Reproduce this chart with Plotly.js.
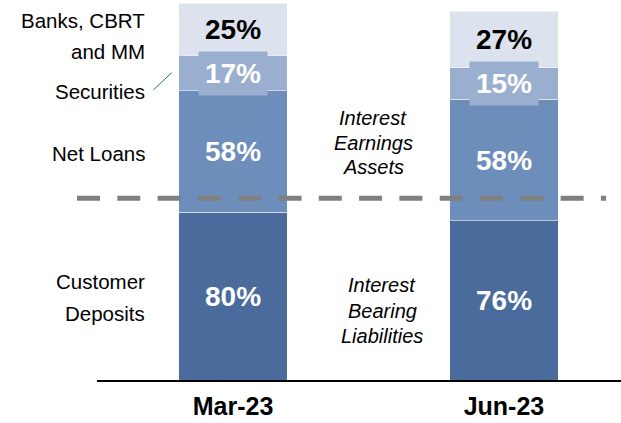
<!DOCTYPE html>
<html>
<head>
<meta charset="utf-8">
<script src="https://cdn.plot.ly/plotly-3.0.1.min.js"></script>
<style>html,body{margin:0;padding:0;background:#fff;}#chart{width:621px;height:423px;}</style>
</head>
<body>
<div id="chart"></div>
<script>
// ---- data ----
const categories = ['Mar-23', 'Jun-23'];
const customerDeposits = [80, 76];
const netLoans = [58, 58];
const securities = [17, 15];
const banksCbrtMm = [25, 27];

const seriesNames = ['Customer Deposits', 'Net Loans', 'Securities', 'Banks, CBRT and MM'];
const seriesValues = [customerDeposits, netLoans, securities, banksCbrtMm];
const seriesColors = ['#4a6b9b', '#6d8dba', '#9aafcf', '#dde3ee'];
const labelColors = ['#ffffff', '#ffffff', '#ffffff', '#000000'];

// ---- layout geometry ----
const W = 621, H = 423;
const M = {l: 97, r: 0, t: 3, b: 43};
const plotW = W - M.l - M.r, plotH = H - M.t - M.b;
const px = x => (x - M.l) / plotW;
const py = y => (H - M.b - y) / plotH;

const FONT = '"Liberation Sans", Arial, sans-serif';

const traces = seriesValues.map((vals, i) => ({
  type: 'bar',
  name: seriesNames[i],
  x: categories,
  y: vals,
  width: 0.4,
  marker: {color: seriesColors[i], line: {color: '#ffffff', width: 0.5}},
  hoverinfo: 'none',
  showlegend: false
}));

const annotations = [];
// value labels centred in each segment
categories.forEach((cat, ci) => {
  let base = 0;
  seriesValues.forEach((vals, si) => {
    const v = vals[ci];
    const ann = {
      x: cat, y: base + v / 2, xref: 'x', yref: 'y',
      text: '<b>' + v + '%</b>', showarrow: false,
      font: {family: FONT, size: 28, color: labelColors[si]},
      xanchor: 'center', yanchor: 'middle'
    };
    if (si === 2) {
      ann.bgcolor = seriesColors[si];
      ann.width = 68; ann.height = 43; ann.borderpad = 0;
    }
    annotations.push(ann);
    base += v;
  });
});

// left-side series labels (right-aligned)
const leftLines = [
  ['Banks, CBRT', 20.5], ['and MM', 51.5], ['Securities', 91],
  ['Net Loans', 153], ['Customer', 281.5], ['Deposits', 313]
];
leftLines.forEach(([t, y]) => annotations.push({
  xref: 'paper', yref: 'paper', x: px(147), y: py(y), text: t, showarrow: false,
  xanchor: 'right', yanchor: 'middle', font: {family: FONT, size: 20.5, color: '#000'}
}));

// italic group labels
const midLines = [
  ['Interest', 373, 118], ['Earnings', 373, 143], ['Assets', 373, 167.5],
  ['Interest', 382, 285], ['Bearing', 382, 311], ['Liabilities', 382, 336]
];
midLines.forEach(([t, x, y]) => annotations.push({
  xref: 'paper', yref: 'paper', x: px(x), y: py(y), text: '<i>' + t + '</i>', showarrow: false,
  xanchor: 'center', yanchor: 'middle', font: {family: FONT, size: 20, color: '#000'}
}));

const shapes = [
  {type: 'line', xref: 'paper', yref: 'paper', x0: px(77), x1: px(606), y0: py(198.3), y1: py(198.3),
   line: {color: '#808080', width: 5, dash: '23px,17.3px'}, layer: 'above'},
  {type: 'line', xref: 'paper', yref: 'paper', x0: px(153.3), y0: py(90), x1: px(171.7), y1: py(72.7),
   line: {color: '#1f7a4c', width: 1}, layer: 'above'}
];

const layout = {
  width: W, height: H,
  margin: M,
  paper_bgcolor: '#ffffff', plot_bgcolor: '#ffffff',
  barmode: 'stack',
  showlegend: false,
  xaxis: {
    type: 'category', range: [-0.502, 1.432],
    showline: true, linecolor: '#000000', linewidth: 2,
    showgrid: false, zeroline: false, ticks: '',
    tickfont: {family: FONT, size: 25, color: '#000', weight: 'bold'},
    ticklabelstandoff: 3, fixedrange: true
  },
  yaxis: {range: [0, 180], visible: false, showgrid: false, zeroline: false, fixedrange: true},
  annotations: annotations,
  shapes: shapes
};

Plotly.newPlot('chart', traces, layout, {staticPlot: true, displayModeBar: false});
</script>
</body>
</html>
